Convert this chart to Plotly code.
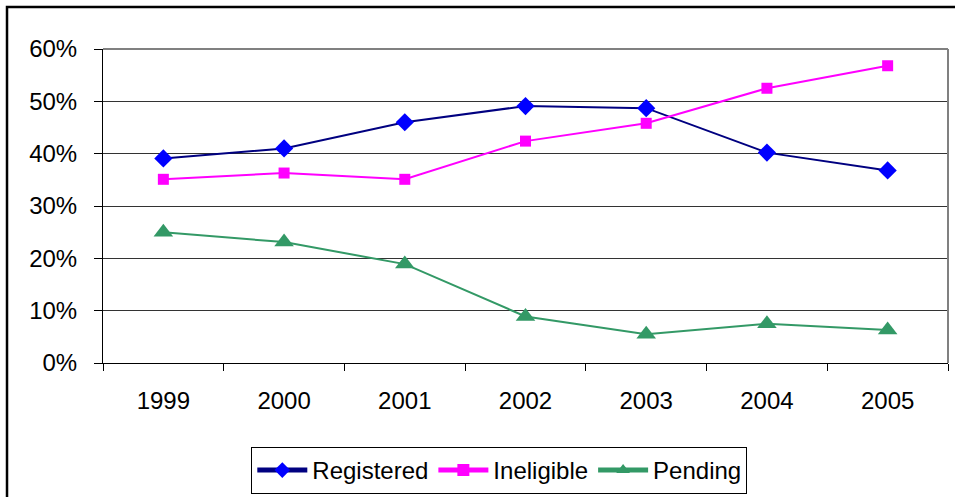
import plotly.graph_objects as go

years = ["1999", "2000", "2001", "2002", "2003", "2004", "2005"]
registered = [0.391, 0.410, 0.460, 0.491, 0.487, 0.402, 0.368]
ineligible = [0.351, 0.363, 0.351, 0.424, 0.458, 0.525, 0.568]
pending = [0.250, 0.231, 0.189, 0.089, 0.055, 0.075, 0.063]
y_ticks = [0, 0.1, 0.2, 0.3, 0.4, 0.5, 0.6]
y_labels = ["0%", "10%", "20%", "30%", "40%", "50%", "60%"]

fig = go.Figure()
fig.add_trace(go.Scatter(x=years, y=registered, name="Registered", mode="lines+markers",
                         line=dict(color="#000080", width=2),
                         marker=dict(symbol="diamond", size=14, color="#0000FF")))
fig.add_trace(go.Scatter(x=years, y=ineligible, name="Ineligible", mode="lines+markers",
                         line=dict(color="#FF00FF", width=2),
                         marker=dict(symbol="square", size=11, color="#FF00FF")))
fig.add_trace(go.Scatter(x=years, y=pending, name="Pending", mode="lines+markers",
                         line=dict(color="#339966", width=2),
                         marker=dict(symbol="triangle-up", size=17, color="#339966")))

font = "Liberation Sans, Arial, sans-serif"
fig.update_layout(
    width=955, height=497,
    margin=dict(l=103, r=7, t=49, b=134, autoexpand=False),
    paper_bgcolor="white", plot_bgcolor="white",
    font=dict(family=font, size=24, color="black"),
    showlegend=True,
    legend=dict(orientation="h", x=0.469, xanchor="center", y=-0.2675, yanchor="top",
                bordercolor="black", borderwidth=1, font=dict(size=24),
                itemwidth=50, tracegroupgap=0, itemsizing="constant"),
    xaxis=dict(type="category", showline=True, linecolor="black", linewidth=1,
               ticks="outside", tickson="boundaries", ticklen=7, tickcolor="black",
               showgrid=False, ticklabelstandoff=16, range=[-0.5, 6.5],
               automargin=False, fixedrange=True),
    yaxis=dict(range=[0, 0.6], tickvals=y_ticks, ticktext=y_labels,
               showline=True, linecolor="black", linewidth=1,
               ticks="outside", ticklen=8, tickcolor="black",
               showgrid=True, gridcolor="#333333", gridwidth=1,
               zeroline=False, ticklabelstandoff=12,
               automargin=False, fixedrange=True),
    shapes=[
        dict(type="line", xref="paper", yref="paper", x0=0, x1=1, y0=1, y1=1,
             line=dict(color="#808080", width=2)),
        dict(type="line", xref="paper", yref="paper", x0=1, x1=1, y0=0, y1=1,
             line=dict(color="#808080", width=2)),
        dict(type="rect", xref="paper", yref="paper", x0=-0.1136, x1=1.05,
             y0=-0.6, y1=1.1338, line=dict(color="black", width=2.5)),
    ],
)

fig.write_html("out.html", config={"displayModeBar": False},
               post_script="document.body.style.margin='0';document.body.style.overflow='hidden';")
